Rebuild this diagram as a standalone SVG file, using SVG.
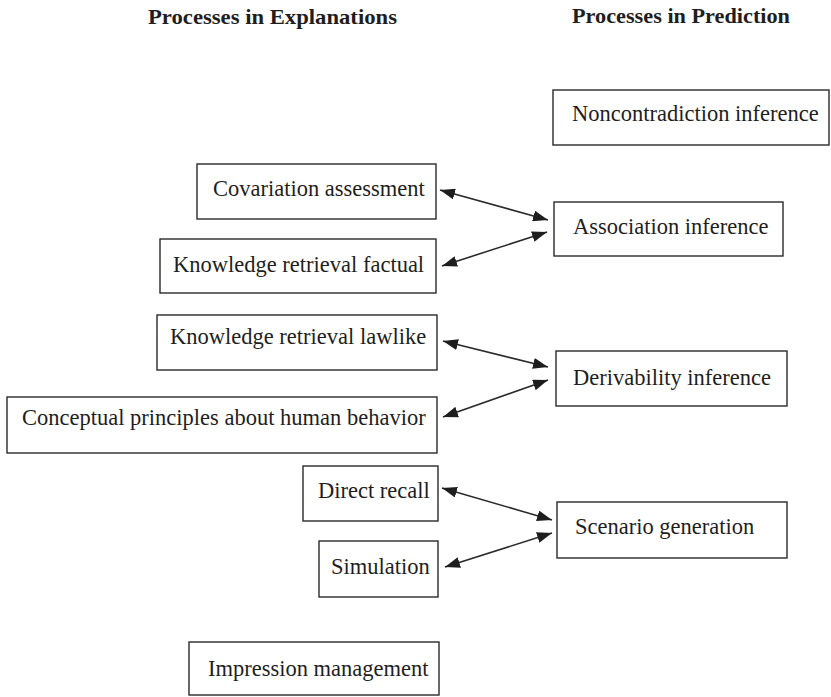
<svg xmlns="http://www.w3.org/2000/svg" width="831" height="697" viewBox="0 0 831 697">
<style>
  .box { fill: #fff; stroke: #2a2a2a; stroke-width: 1.4; }
  .lbl { font-family: "Liberation Serif", serif; font-size: 22.5px; fill: #1e1e1e; }
  .hdr { font-family: "Liberation Serif", serif; font-size: 21px; font-weight: bold; fill: #1e1e1e; }
  .conn { stroke: #2a2a2a; stroke-width: 1.6; fill: none; marker-start: url(#ah); marker-end: url(#ah); }
</style>
<defs>
  <marker id="ah" viewBox="0 0 15 11" refX="15" refY="5.5" markerWidth="15" markerHeight="11" markerUnits="userSpaceOnUse" orient="auto-start-reverse">
    <path d="M0,0 L15,5.5 L0,11 z" fill="#1e1e1e"/>
  </marker>
</defs>
<rect width="831" height="697" fill="#fff"/>
<text class="hdr" x="148" y="24" textLength="249" lengthAdjust="spacingAndGlyphs">Processes in Explanations</text>
<text class="hdr" x="572" y="23" textLength="218" lengthAdjust="spacingAndGlyphs">Processes in Prediction</text>

<g id="noncontradiction">
  <rect class="box" x="553" y="90" width="276" height="55"/>
  <text class="lbl" x="572" y="121">Noncontradiction inference</text>
</g>
<g id="covariation">
  <rect class="box" x="197" y="164" width="239" height="55"/>
  <text class="lbl" x="213" y="196">Covariation assessment</text>
</g>
<g id="factual">
  <rect class="box" x="160" y="239" width="276" height="54"/>
  <text class="lbl" x="173" y="272">Knowledge retrieval factual</text>
</g>
<g id="association">
  <rect class="box" x="554" y="202" width="229" height="54"/>
  <text class="lbl" x="573" y="234">Association inference</text>
</g>
<g id="lawlike">
  <rect class="box" x="157" y="315" width="280" height="55"/>
  <text class="lbl" x="170" y="344">Knowledge retrieval lawlike</text>
</g>
<g id="conceptual">
  <rect class="box" x="7" y="397" width="430" height="56"/>
  <text class="lbl" x="22" y="425">Conceptual principles about human behavior</text>
</g>
<g id="derivability">
  <rect class="box" x="556" y="351" width="231" height="55"/>
  <text class="lbl" x="573" y="385">Derivability inference</text>
</g>
<g id="direct-recall">
  <rect class="box" x="303" y="466" width="135" height="55"/>
  <text class="lbl" x="318" y="498">Direct recall</text>
</g>
<g id="simulation">
  <rect class="box" x="319" y="541" width="119" height="56"/>
  <text class="lbl" x="331" y="574">Simulation</text>
</g>
<g id="scenario">
  <rect class="box" x="557" y="502" width="230" height="56"/>
  <text class="lbl" x="575" y="534">Scenario generation</text>
</g>
<g id="impression">
  <rect class="box" x="189" y="642" width="250" height="53"/>
  <text class="lbl" x="208" y="676">Impression management</text>
</g>

<g id="connectors">
  <line class="conn" x1="440" y1="190" x2="548" y2="220"/>
  <line class="conn" x1="547" y1="232" x2="442" y2="266"/>
  <line class="conn" x1="443" y1="341" x2="548" y2="367"/>
  <line class="conn" x1="548" y1="380" x2="443" y2="417"/>
  <line class="conn" x1="442" y1="488" x2="552" y2="520"/>
  <line class="conn" x1="552" y1="533" x2="445" y2="567"/>
</g>
</svg>
